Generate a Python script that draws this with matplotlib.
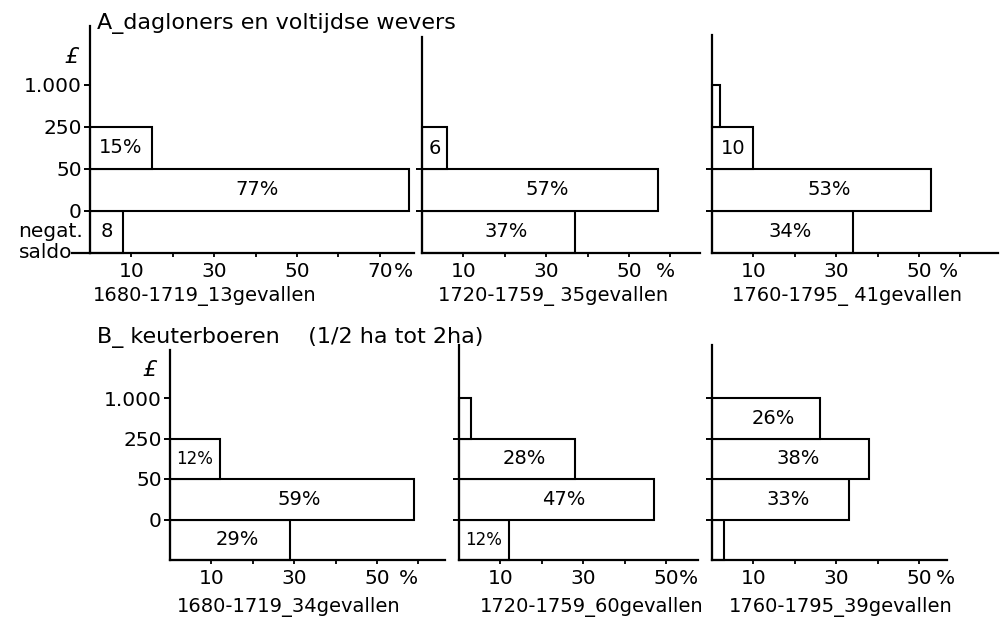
import matplotlib.pyplot as plt

plt.rcParams['font.family'] = ['DejaVu Sans']

W, H = 1000, 619
PX_PER_PCT = 4.14

# inkomensklassen in pond, van onder naar boven
grens_labels = ["0", "50", "250", "1.000"]

# A - dagloners en voltijdse wevers: % per klasse (negat. saldo, 0-50, 50-250, 250-1.000)
a_1680 = [8, 77, 15, 0]
a_1720 = [37, 57, 6, 0]
a_1760 = [34, 53, 10, 2]
a_tekst_1680 = ["8", "77%", "15%", ""]
a_tekst_1720 = ["37%", "57%", "6", ""]
a_tekst_1760 = ["34%", "53%", "10", ""]
a_onderschrift = ["1680-1719_13gevallen", "1720-1759_ 35gevallen", "1760-1795_ 41gevallen"]

# B - keuterboeren (1/2 ha tot 2 ha)
b_1680 = [29, 59, 12, 0]
b_1720 = [12, 47, 28, 3]
b_1760 = [3, 33, 38, 26]
b_tekst_1680 = ["29%", "59%", "12%", ""]
b_tekst_1720 = ["12%", "47%", "28%", ""]
b_tekst_1760 = ["", "33%", "38%", "26%"]
b_onderschrift = ["1680-1719_34gevallen", "1720-1759_60gevallen", "1760-1795_39gevallen"]

x_labels_lang = [10, 30, 50, 70]
x_labels_kort = [10, 30, 50]

fig = plt.figure(figsize=(W / 100, H / 100), dpi=100)
fig.patch.set_facecolor('white')


def fig_tekst(x, y, s, **kw):
    """Tekst plaatsen in pixelcoordinaten (y van boven)."""
    fig.text(x / W, 1 - y / H, s, **kw)


def paneel(x0, y0, x_eind, y_top, band, waarden, teksten, xlabels, pct_dx,
           yticks, ylabels=None):
    ax = fig.add_axes([x0 / W, (H - y0) / H, (x_eind - x0) / W, (y0 - y_top) / H])
    ax.set_xlim(0, (x_eind - x0) / PX_PER_PCT)
    ax.set_ylim(0, (y0 - y_top) / band)
    ax.set_facecolor('none')
    for s in ['top', 'right']:
        ax.spines[s].set_visible(False)
    for s in ['left', 'bottom']:
        ax.spines[s].set_linewidth(1.6)

    for i, (v, t) in enumerate(zip(waarden, teksten)):
        if v <= 0:
            continue
        ax.barh(i + 0.5, v, height=1.0, left=0, color='white',
                edgecolor='black', linewidth=1.5, clip_on=False)
        if t:
            fs = 12 if (v <= 12 and '%' in t) else 14
            ax.text(v / 2 + (1.8 if v > 20 else 0), i + 0.5, t,
                    ha='center', va='center', fontsize=fs)

    # x-as: streepjes om de 10%, getallen om de 20%
    xmax = ax.get_xlim()[1]
    ax.set_xticks(range(10, int(xmax) + 1, 10))
    ax.set_xticklabels([])
    ax.tick_params(axis='x', length=3, width=1.3, direction='out')
    trans = ax.get_xaxis_transform()
    for v in xlabels:
        ax.annotate(str(v), (v, 0), xycoords=trans, xytext=(0, -19),
                    textcoords='offset pixels', ha='center', va='center',
                    fontsize=14.5)
    ax.annotate('%', (xlabels[-1], 0), xycoords=trans, xytext=(pct_dx, -19),
                textcoords='offset pixels', ha='center', va='center',
                fontsize=14.5)

    ax.set_yticks(yticks)
    ax.tick_params(axis='y', length=4, width=1.4, direction='out', pad=2,
                   labelsize=14.5)
    if ylabels is None:
        ax.set_yticklabels([])
    else:
        ax.set_yticklabels(ylabels)
    return ax


# bovenste rij: A
ax = paneel(90, 253, 414, 26, 42, a_1680, a_tekst_1680, x_labels_lang, 24,
            [1, 2, 3, 4], grens_labels)
# onderste klasse: langer streepje met "negat. saldo"
ax.plot([-18 / PX_PER_PCT, 0], [0, 0], color='black', lw=1.6, clip_on=False)
ax.annotate("negat.", (0, 0.52), xycoords=('axes fraction', 'data'),
            xytext=(-7, 0), textcoords='offset pixels', ha='right',
            va='center', fontsize=14.5)
ax.annotate("saldo", (0, 0), xycoords=('axes fraction', 'data'),
            xytext=(-18, 0), textcoords='offset pixels', ha='right',
            va='center', fontsize=14.5)
paneel(422, 253, 700, 37, 42, a_1720, a_tekst_1720, x_labels_kort, 36, [1, 2])
paneel(712, 253, 998, 35, 42, a_1760, a_tekst_1760, x_labels_kort, 29, [1, 2])

# onderste rij: B
paneel(170, 560, 445, 350, 40.5, b_1680, b_tekst_1680, x_labels_kort, 31,
       [1, 2, 3, 4], grens_labels)
paneel(459, 560, 698, 345, 40.5, b_1720, b_tekst_1720, x_labels_kort, 22,
       [1, 2, 3])
paneel(712, 560, 947, 345, 40.5, b_1760, b_tekst_1760, x_labels_kort, 26,
       [1, 2, 3, 4])

# titels, pondteken en onderschriften
fig_tekst(97, 23, "A_dagloners en voltijdse wevers", fontsize=16, va='center')
fig_tekst(97, 337, "B_ keuterboeren    (1/2 ha tot 2ha)", fontsize=16, va='center')
fig_tekst(72, 57, "£", fontsize=16, style='italic', ha='center', va='center')
fig_tekst(150, 370, "£", fontsize=16, style='italic', ha='center', va='center')

for x, s in zip([205, 553, 847], a_onderschrift):
    fig_tekst(x, 296, s, fontsize=14, ha='center', va='center')
for x, s in zip([289, 592, 841], b_onderschrift):
    fig_tekst(x, 607, s, fontsize=14, ha='center', va='center')

fig.savefig('out.png', dpi=100, facecolor='white')
